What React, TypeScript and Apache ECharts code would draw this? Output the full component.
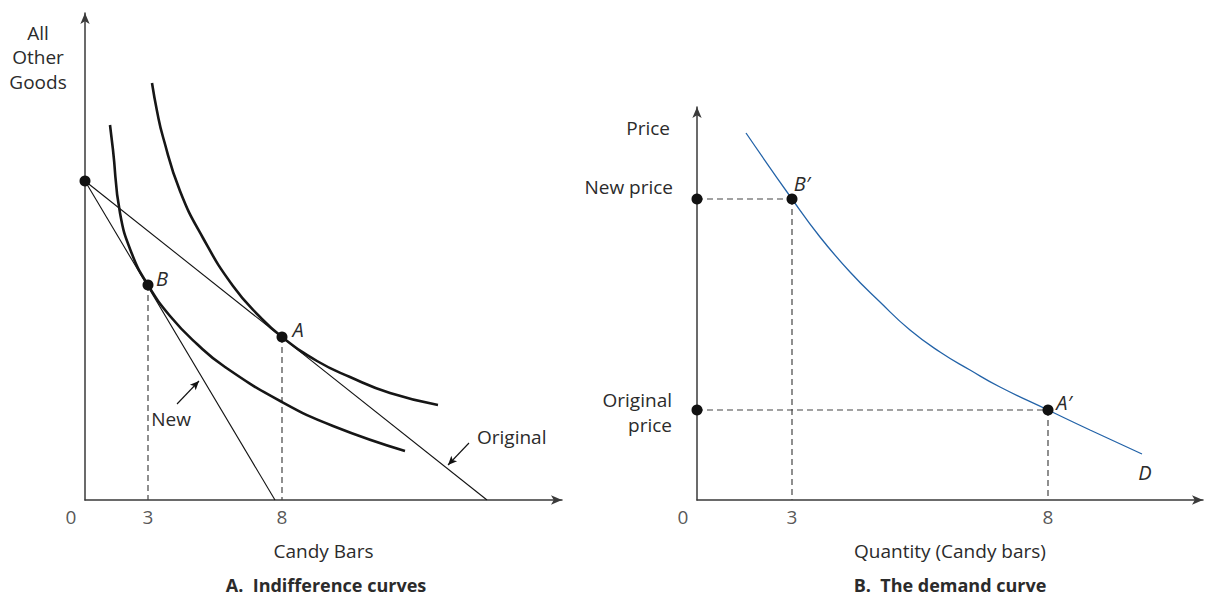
import React, { useEffect, useRef } from "react";
import * as echarts from "echarts";

// ---------- Panel A: indifference curves (schematic units) ----------
const budgetIntercept: [number, number] = [0, 31.9];
const pointB: [number, number] = [6.3, 21.5];
const pointA: [number, number] = [19.7, 16.3];
const newBudgetEnd: [number, number] = [19.0, 0];
const originalBudgetEnd: [number, number] = [40.2, 0];

const innerCurve: [number, number][] = [
  [2.5, 37.5], [2.8, 35.0], [3.5, 28.7], [4.7, 24.6], [6.3, 21.5], [8.5, 18.4],
  [11.2, 15.6], [14.0, 13.3], [19.7, 9.8], [24.8, 7.4], [32.0, 4.9],
];
const outerCurve: [number, number][] = [
  [6.7, 41.7], [7.2, 38.9], [7.8, 36.3], [9.5, 30.9], [11.8, 26.2], [14.8, 21.4],
  [17.5, 18.3], [19.7, 16.3], [23.2, 13.9], [26.5, 12.3], [30.5, 10.7], [35.3, 9.5],
];
const leftTickValues = [0, 6.3, 19.7];
const leftTickLabels = ["0", "3", "8"];
const newArrow: [number, number][] = [[9.2, 9.6], [11.4, 11.9]];
const originalArrow: [number, number][] = [[38.4, 5.7], [36.3, 3.5]];

// ---------- Panel B: demand curve ----------
const newPrice = 30.1;
const originalPrice = 9.0;
const qNew = 9.5;
const qOriginal = 35.1;
const demandCurve: [number, number][] = [
  [4.9, 36.7], [9.5, 30.1], [12.3, 26.3], [15.3, 22.8], [18.3, 19.8], [21.3, 17.0],
  [24.3, 14.8], [27.3, 13.0], [30.3, 11.3], [35.1, 9.0], [39.3, 7.0], [44.5, 4.6],
];
const rightTickValues = [0, qNew, qOriginal];
const rightTickLabels = ["0", "3", "8"];

const FONT = '"Open Sans", sans-serif';
const TEXT = "#2b2b2b";
const AXIS = "#3a3a3a";
const CURVE = "#161616";
const BLUE = "#2363a8";

export default function App() {
  const ref = useRef<HTMLDivElement>(null);
  useEffect(() => {
    document.body.style.margin = "0";
    const chart = echarts.init(ref.current!, null, { renderer: "svg" });

    const axisBase = (max: number, grid: number) => ({
      type: "value",
      gridIndex: grid,
      min: 0,
      max,
      axisLine: {
        show: true,
        onZero: true,
        lineStyle: { color: AXIS, width: 1.5 },
        symbol: ["none", "arrow"],
        symbolSize: [7, 11],
      },
      axisTick: { show: false },
      axisLabel: { show: false },
      splitLine: { show: false },
    });
    const nameStyle = { fontFamily: FONT, fontSize: 19, color: TEXT };

    const dashed = (data: [number, number][], xi: number) => ({
      type: "line",
      xAxisIndex: xi,
      yAxisIndex: xi,
      data,
      symbol: "none",
      lineStyle: { color: "#444", width: 1.2, type: [6, 4] },
      z: 3,
    });

    const tickSeries = (vals: number[], labels: string[], xi: number) => ({
      type: "scatter",
      xAxisIndex: xi,
      yAxisIndex: xi,
      symbolSize: 0,
      data: vals.map((v, i) => ({
        value: [v, 0],
        label: {
          show: true,
          formatter: labels[i],
          position: "inside",
          offset: [i === 0 ? -14 : 0, 17],
          fontFamily: FONT,
          fontSize: 19,
          color: TEXT,
        },
      })),
      z: 6,
    });

    const dot = (p: [number, number], label?: string, offset?: number[]) => ({
      value: p,
      label: label
        ? {
            show: true,
            formatter: label,
            position: "inside",
            offset,
            fontFamily: FONT,
            fontStyle: "italic",
            fontSize: 20,
            color: TEXT,
          }
        : { show: false },
    });

    const curve = (data: [number, number][], xi: number, color: string, width: number) => ({
      type: "line",
      xAxisIndex: xi,
      yAxisIndex: xi,
      data,
      symbol: "none",
      smooth: 0.5,
      lineStyle: { color, width },
      z: 4,
    });

    const option: any = {
      animation: false,
      grid: [
        { left: 85, top: 13, width: 477, height: 487 },
        { left: 697, top: 107, width: 506, height: 393 },
      ],
      xAxis: [
        { ...axisBase(47.7, 0), name: "Candy Bars", nameLocation: "middle", nameGap: 41, nameTextStyle: nameStyle },
        { ...axisBase(50.6, 1), name: "Quantity (Candy bars)", nameLocation: "middle", nameGap: 41, nameTextStyle: nameStyle },
      ],
      yAxis: [axisBase(48.7, 0), axisBase(39.3, 1)],
      series: [
        // Panel A
        curve(innerCurve, 0, CURVE, 2.6),
        curve(outerCurve, 0, CURVE, 2.6),
        {
          type: "line", xAxisIndex: 0, yAxisIndex: 0, data: [budgetIntercept, newBudgetEnd], symbol: "none",
          lineStyle: { color: "#111", width: 1.1 }, z: 3,
          markLine: {
            silent: true,
            symbol: ["none", "arrow"],
            symbolSize: [6, 9],
            label: { show: false },
            lineStyle: { color: "#111", width: 1.1, type: "solid" },
            data: [
              [{ coord: newArrow[0] }, { coord: newArrow[1] }],
              [{ coord: originalArrow[0] }, { coord: originalArrow[1] }],
            ],
          },
        },
        {
          type: "line", xAxisIndex: 0, yAxisIndex: 0, data: [budgetIntercept, originalBudgetEnd], symbol: "none",
          lineStyle: { color: "#111", width: 1.1 }, z: 3,
        },
        dashed([pointB, [pointB[0], 0]], 0),
        dashed([pointA, [pointA[0], 0]], 0),
        {
          type: "scatter", xAxisIndex: 0, yAxisIndex: 0, symbolSize: 11,
          itemStyle: { color: "#111", opacity: 1 }, z: 7,
          data: [dot(budgetIntercept), dot(pointB, "B", [14, -7]), dot(pointA, "A", [16, -8])],
        },
        tickSeries(leftTickValues, leftTickLabels, 0),
        // Panel B
        curve(demandCurve, 1, BLUE, 1.3),
        dashed([[0, newPrice], [qNew, newPrice]], 1),
        dashed([[qNew, newPrice], [qNew, 0]], 1),
        dashed([[0, originalPrice], [qOriginal, originalPrice]], 1),
        dashed([[qOriginal, originalPrice], [qOriginal, 0]], 1),
        {
          type: "scatter", xAxisIndex: 1, yAxisIndex: 1, symbolSize: 11,
          itemStyle: { color: "#111", opacity: 1 }, z: 7,
          data: [
            dot([0, newPrice]),
            dot([qNew, newPrice], "B\u2032", [10, -16]),
            dot([0, originalPrice]),
            dot([qOriginal, originalPrice], "A\u2032", [16, -8]),
          ],
        },
        tickSeries(rightTickValues, rightTickLabels, 1),
      ],
      graphic: [
        {
          type: "text", x: 38, y: 57,
          style: { text: "All\nOther\nGoods", font: `19px ${FONT}`, fill: TEXT, textAlign: "center", textVerticalAlign: "middle", align: "center", verticalAlign: "middle", lineHeight: 24.5 },
        },
        {
          type: "text", x: 171, y: 419,
          style: { text: "New", font: `19px ${FONT}`, fill: TEXT, textAlign: "center", textVerticalAlign: "middle", align: "center", verticalAlign: "middle" },
        },
        {
          type: "text", x: 477, y: 437,
          style: { text: "Original", font: `19px ${FONT}`, fill: TEXT, textAlign: "left", textVerticalAlign: "middle", align: "left", verticalAlign: "middle" },
        },
        {
          type: "text", x: 326, y: 585,
          style: { text: "A.  Indifference curves", font: `bold 18px ${FONT}`, fill: TEXT, textAlign: "center", textVerticalAlign: "middle", align: "center", verticalAlign: "middle" },
        },
        {
          type: "text", x: 950, y: 585,
          style: { text: "B.  The demand curve", font: `bold 18px ${FONT}`, fill: TEXT, textAlign: "center", textVerticalAlign: "middle", align: "center", verticalAlign: "middle" },
        },
        {
          type: "text", x: 670, y: 128,
          style: { text: "Price", font: `19px ${FONT}`, fill: TEXT, textAlign: "right", textVerticalAlign: "middle", align: "right", verticalAlign: "middle" },
        },
        {
          type: "text", x: 673, y: 187,
          style: { text: "New price", font: `19px ${FONT}`, fill: TEXT, textAlign: "right", textVerticalAlign: "middle", align: "right", verticalAlign: "middle" },
        },
        {
          type: "text", x: 672, y: 412.5,
          style: { text: "Original\nprice", font: `19px ${FONT}`, fill: TEXT, textAlign: "right", textVerticalAlign: "middle", align: "right", verticalAlign: "middle", lineHeight: 25 },
        },
        {
          type: "text", x: 1145, y: 472,
          style: { text: "D", font: `italic 20px ${FONT}`, fill: TEXT, textAlign: "center", textVerticalAlign: "middle", align: "center", verticalAlign: "middle" },
        },
      ],
    };
    chart.setOption(option);
    return () => chart.dispose();
  }, []);
  return <div ref={ref} style={{ width: 1210, height: 596, background: "#fff" }} />;
}
